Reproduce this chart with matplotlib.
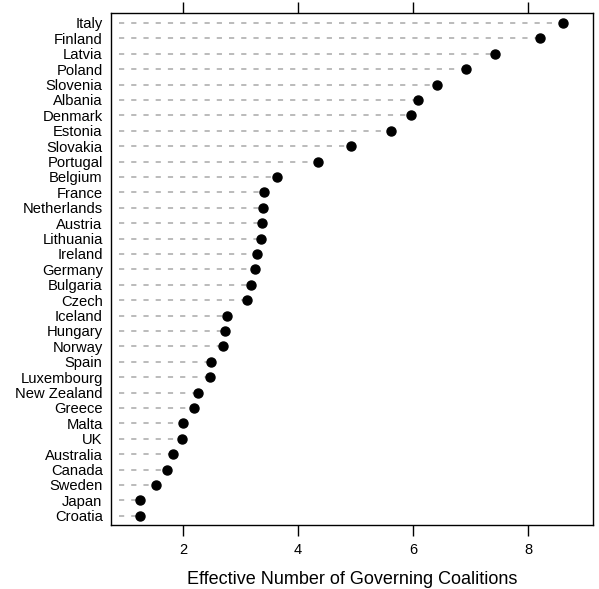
import matplotlib

matplotlib.use("Agg")
import matplotlib.pyplot as plt

plt.rcParams["font.family"] = ["Liberation Sans", "DejaVu Sans"]

# countries listed top to bottom
countries = [
    "Italy", "Finland", "Latvia", "Poland", "Slovenia", "Albania", "Denmark",
    "Estonia", "Slovakia", "Portugal", "Belgium", "France", "Netherlands",
    "Austria", "Lithuania", "Ireland", "Germany", "Bulgaria", "Czech",
    "Iceland", "Hungary", "Norway", "Spain", "Luxembourg", "New Zealand",
    "Greece", "Malta", "UK", "Australia", "Canada", "Sweden", "Japan", "Croatia",
]
enc = [
    8.61, 8.21, 7.43, 6.92, 6.42, 6.09, 5.97,
    5.62, 4.92, 4.35, 3.63, 3.41, 3.40,
    3.37, 3.36, 3.29, 3.25, 3.19, 3.12,
    2.76, 2.73, 2.70, 2.49, 2.47, 2.27,
    2.20, 2.00, 1.98, 1.83, 1.73, 1.53, 1.26, 1.26,
]
x_ticks = [2, 4, 6, 8]

fig = plt.figure(figsize=(5.99, 5.89), dpi=100)
ax = fig.add_axes([0.1853, 0.1087, 0.8047, 0.8693])

n = len(countries)
ypos = list(range(n - 1, -1, -1))
x_left = 0.75

for y, v in zip(ypos, enc):
    ax.plot([0.89, v], [y, y], color="#a8a8a8", lw=1.1, dashes=(3.4, 4.6), zorder=1)
ax.plot(enc, ypos, "o", color="black", markersize=6.5, zorder=2)

ax.set_xlim(x_left, 9.13)
ax.set_ylim(-0.6, n - 1 + 0.65)
ax.set_yticks(ypos)
ax.set_yticklabels(countries, fontsize=10.6)
ax.tick_params(axis="y", length=0, pad=6)
ax.set_xticks(x_ticks)
ax.set_xticklabels([str(t) for t in x_ticks], fontsize=10.5)
ax.tick_params(axis="x", direction="out", length=8, width=1, top=True, pad=5)
for s in ax.spines.values():
    s.set_linewidth(1.0)

ax.set_xlabel("Effective Number of Governing Coalitions", fontsize=13, labelpad=10)

fig.savefig("out.png", dpi=100)
